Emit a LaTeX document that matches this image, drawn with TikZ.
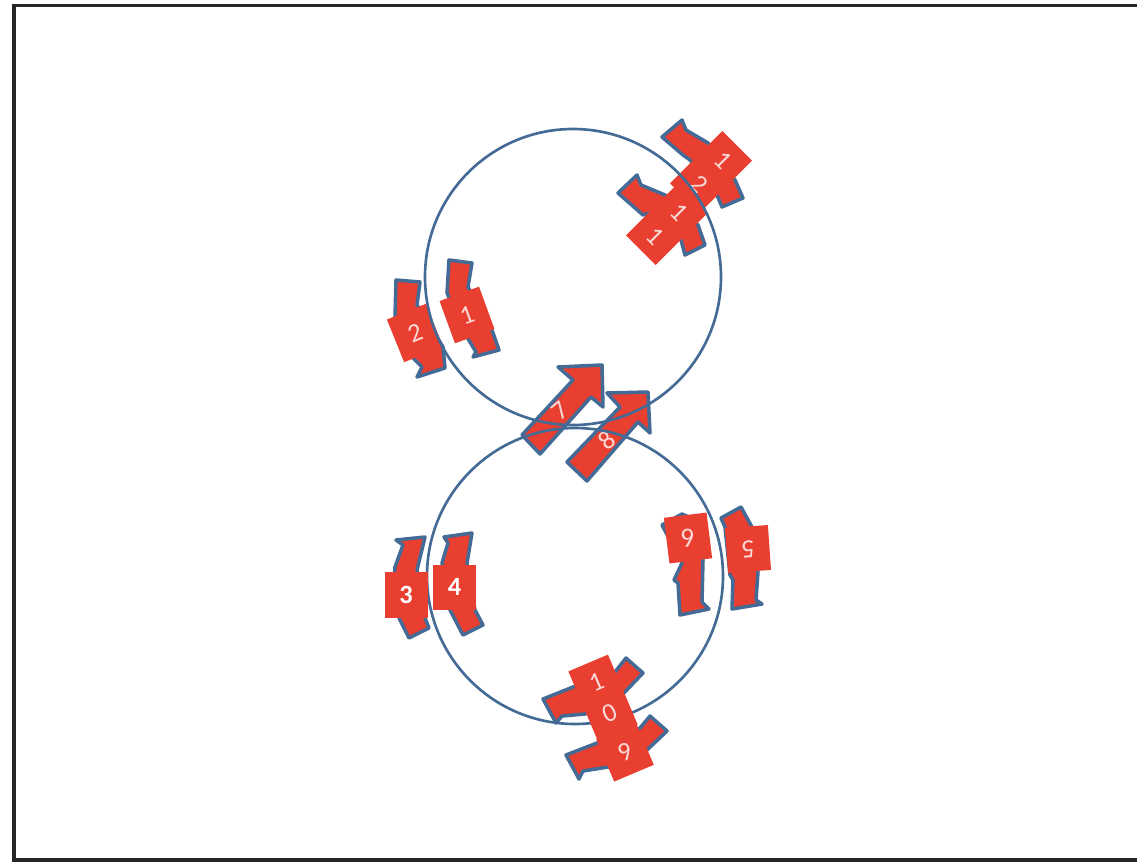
\documentclass[tikz,border=0pt]{standalone}
\usepackage{fontspec}
\setmainfont{Carlito}
\usepackage{tikz}
\definecolor{carred}{HTML}{E93F30}
\definecolor{lineblue}{HTML}{446A96}
\tikzset{
  carbody/.style={draw=lineblue,fill=carred,line width=2pt,line join=round},
  carbox/.style={fill=carred,text=white!80!carred,inner sep=0pt,align=center,
    font=\fontsize{15}{19}\selectfont},
  bigring/.style={draw=lineblue,line width=1.5pt}
}
\begin{document}
\begin{tikzpicture}[x=0.02cm,y=-0.02cm]
  \useasboundingbox (0,0) rectangle (1137,863);
  \fill[white] (0,0) rectangle (1137,863);
  \draw[line width=2.1pt,black!85] (14,5.5) rectangle (1145,860);
  % arrows in the middle
  \draw[carbody] (602,365) -- (558,367) -- (573,380) -- (522,435) -- (540,454) -- (591,397) -- (603,407) -- cycle;
  \draw[carbody] (648,392) -- (607,393) -- (620,407) -- (567,462) -- (587,481) -- (638,422) -- (650,433) -- cycle;
  \node[text=white!80!carred,font=\fontsize{15}{19}\selectfont,rotate=40] (seven) at (560,411) {7};
  \node[text=white!80!carred,font=\fontsize{15}{19}\selectfont,rotate=40] (eight) at (607,440) {8};
  % lower ring
  \draw[bigring] (575,576) circle (148);
  % lower ring, left side
  \draw[carbody] (396,540) -- (403,545) -- (395,567) -- (392,600) -- (400,620) -- (409,638) -- (429,628) -- (425,618) -- (417,570) -- (425,537) -- cycle;
  \node[carbox,minimum width=43*0.02cm,minimum height=46*0.02cm,font=\fontsize{15}{19}\selectfont\bfseries,text=white] (three) at (406,595) {3};
  \draw[carbody] (444,537) -- (448,543) -- (442,563) -- (450,610) -- (463,635) -- (483,625) -- (475,610) -- (467,563) -- (472,533) -- cycle;
  \node[carbox,minimum width=43*0.02cm,minimum height=45*0.02cm,font=\fontsize{15}{19}\selectfont\bfseries,text=white] (four) at (454.5,587) {4};
  % lower ring, right side
  \draw[carbody] (721,518) -- (741,507) -- (752,527) -- (758,572) -- (756,600) -- (762,604) -- (732,609) -- (733,580) -- (730,575) -- (725,527) -- cycle;
  \node[carbox,minimum width=43*0.02cm,minimum height=45*0.02cm,rotate=184] (five) at (748,549) {5};
  \draw[carbody] (662,525) -- (682,514) -- (700,522) -- (703,560) -- (702,602) -- (709,609) -- (680,615) -- (678,583) -- (674,580) -- (682,563) -- cycle;
  \node[carbox,minimum width=43*0.02cm,minimum height=46*0.02cm,rotate=187] (six) at (688,538) {6};
  % lower ring, bottom
  \draw[carbody] (543,699) -- (573,687) -- (615,672) -- (626,658) -- (643,673) -- (622,695) -- (585,714) -- (562,716) -- (556,723) -- cycle;
  \draw[carbody] (566,755) -- (597,743) -- (640,728) -- (650,716) -- (667,731) -- (647,750) -- (608,767) -- (583,771) -- (579,779) -- cycle;
  \node[carbox,minimum width=43*0.02cm,minimum height=76*0.02cm,rotate=23] (ten) at (603,698) {1\\0};
  \node[carbox,minimum width=43*0.02cm,minimum height=46*0.02cm,rotate=23] (nine) at (625,752) {9};
  % upper ring, left side
  \draw[carbody] (449,260) -- (472,263) -- (468,287) -- (492,330) -- (499,350) -- (473,357) -- (476,352) -- (467,337) -- (447,293) -- cycle;
  \node[carbox,minimum width=42*0.02cm,minimum height=45*0.02cm,rotate=20] (one) at (467,315) {1};
  \draw[carbody] (396,280) -- (420,282) -- (417,305) -- (443,347) -- (445,368) -- (417,377) -- (422,367) -- (413,358) -- (395,317) -- cycle;
  \node[carbox,minimum width=42*0.02cm,minimum height=46*0.02cm,rotate=22] (two) at (415,333) {2};
  % upper ring, top right
  \draw[carbody] (662,137) -- (682,120) -- (686,130) -- (708,143) -- (735,180) -- (743,198) -- (722,207) -- (717,195) -- (690,160) -- (683,155) -- cycle;
  \draw[carbody] (618,193) -- (637,175) -- (641,185) -- (665,195) -- (698,225) -- (705,245) -- (685,255) -- (681,240) -- (650,213) -- (643,215) -- cycle;
  \node[carbox,minimum width=42*0.02cm,minimum height=74*0.02cm,rotate=-45] (twelve) at (711,172) {1\\2};
  \node[carbox,minimum width=42*0.02cm,minimum height=74*0.02cm,rotate=-45] (eleven) at (667,224) {1\\1};
  % upper ring
  \draw[bigring] (573,277) circle (148);
\end{tikzpicture}
\end{document}
